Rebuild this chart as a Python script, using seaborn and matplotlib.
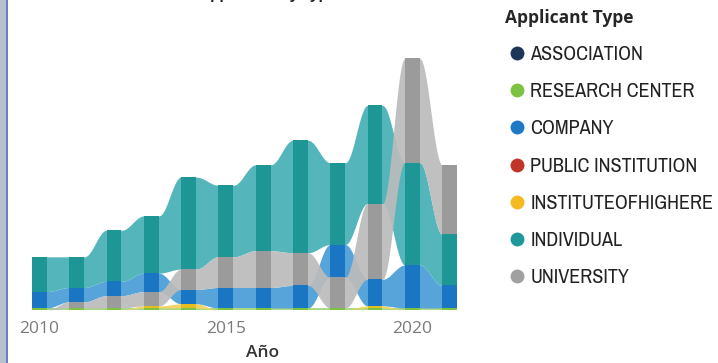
import numpy as np
import pandas as pd
import matplotlib
matplotlib.use("Agg")
import matplotlib.pyplot as plt
import seaborn as sns
from matplotlib.patches import Rectangle
from matplotlib.lines import Line2D

# ---------------- data ----------------
years = [2010, 2011, 2012, 2013, 2014, 2015, 2016, 2017, 2018, 2019, 2020, 2021]
categories = ["ASSOCIATION", "RESEARCH CENTER", "COMPANY", "PUBLIC INSTITUTION",
              "INSTITUTEOFHIGHERE", "INDIVIDUAL", "UNIVERSITY"]
association = [0, 0, 0, 0, 0, 0, 0, 0, 0, 0, 0, 0]
research_center = [1, 1, 1, 1, 1, 1, 1, 1, 1, 1, 1, 1]
company = [8, 7, 7, 9, 7, 10, 10, 11, 16, 13, 21, 11]
public_institution = [0, 0, 0, 0, 0, 0, 0, 0, 0, 0, 0, 0]
institute_higher = [0, 0, 0, 1, 2, 0, 0, 0, 0, 1, 0, 0]
individual = [17, 15, 25, 28, 45, 35, 42, 55, 40, 48, 50, 25]
university = [0, 3, 6, 7, 10, 15, 18, 16, 15, 37, 51, 34]
tick_years = [2010, 2015, 2020]

values = {
    "ASSOCIATION": association,
    "RESEARCH CENTER": research_center,
    "COMPANY": company,
    "PUBLIC INSTITUTION": public_institution,
    "INSTITUTEOFHIGHERE": institute_higher,
    "INDIVIDUAL": individual,
    "UNIVERSITY": university,
}

legend_colors = {
    "ASSOCIATION": "#1D3557",
    "RESEARCH CENTER": "#7DC242",
    "COMPANY": "#1E78C6",
    "PUBLIC INSTITUTION": "#C0342A",
    "INSTITUTEOFHIGHERE": "#F5B921",
    "INDIVIDUAL": "#1E9898",
    "UNIVERSITY": "#A0A0A0",
}
bar_colors = {
    "ASSOCIATION": "#1D3557",
    "RESEARCH CENTER": "#7DC242",
    "COMPANY": "#1A76C2",
    "PUBLIC INSTITUTION": "#C0342A",
    "INSTITUTEOFHIGHERE": "#E6BD1E",
    "INDIVIDUAL": "#1E9696",
    "UNIVERSITY": "#9B9B9B",
}
ribbon_colors = {
    "ASSOCIATION": "#5A6F8F",
    "RESEARCH CENTER": "#A5D67C",
    "COMPANY": "#4A9DD8",
    "PUBLIC INSTITUTION": "#D8706A",
    "INSTITUTEOFHIGHERE": "#F3D35E",
    "INDIVIDUAL": "#47B1B6",
    "UNIVERSITY": "#BBBBBB",
}
# tie-break priority (lower sits lower in the stack)
priority = {"RESEARCH CENTER": 0, "INSTITUTEOFHIGHERE": 1, "ASSOCIATION": 2,
            "PUBLIC INSTITUTION": 3, "COMPANY": 4, "UNIVERSITY": 5, "INDIVIDUAL": 6}

# ---------------- style ----------------
sns.set_theme(style="white")
plt.rcParams["font.family"] = ["Open Sans", "DejaVu Sans"]

W, H = 718, 363
fig = plt.figure(figsize=(W / 100, H / 100), dpi=100)
ax_left, ax_right = 32, 457
base_y, top_y = 310, 40
ax = fig.add_axes([ax_left / W, (H - base_y) / H, (ax_right - ax_left) / W, (base_y - top_y) / H])

n = len(years)
half = 0.2
ov = 0.04  # ribbons tuck slightly under the bars to avoid seams

# compute stacking per year (ribbon chart: largest on top)
bottoms = {c: np.zeros(n) for c in categories}
tops = {c: np.zeros(n) for c in categories}
for i in range(n):
    order = sorted(categories, key=lambda c: (values[c][i], priority[c]))
    acc = 0.0
    for c in order:
        bottoms[c][i] = acc
        acc += values[c][i]
        tops[c][i] = acc

# ribbons between bars
s = np.linspace(0, 1, 80)
w = 0.5 - 0.5 * np.cos(np.pi * s)
for c in categories:
    v = values[c]
    for i in range(n - 1):
        if v[i] == 0 and v[i + 1] == 0:
            continue
        x = years[i] + half + (years[i + 1] - years[i] - 2 * half) * s
        lo = bottoms[c][i] + (bottoms[c][i + 1] - bottoms[c][i]) * w
        hi = tops[c][i] + (tops[c][i + 1] - tops[c][i]) * w
        x = np.concatenate([[years[i] + half - ov], x, [years[i + 1] - half + ov]])
        lo = np.concatenate([[lo[0]], lo, [lo[-1]]])
        hi = np.concatenate([[hi[0]], hi, [hi[-1]]])
        ax.fill_between(x, lo, hi, color=ribbon_colors[c], alpha=0.93, lw=0, zorder=1)

# bars (seaborn)
for c in categories:
    df = pd.DataFrame({"year": years, "value": values[c]})
    sns.barplot(data=df, x="year", y="value", native_scale=True, width=2 * half,
                color=bar_colors[c], saturation=1, errorbar=None, ax=ax,
                bottom=bottoms[c], edgecolor="none", linewidth=0, zorder=2)

ax.set_xlim(years[0] - half, years[-1] + half)
ax.set_ylim(0, 132)
for sp in ax.spines.values():
    sp.set_visible(False)
ax.set_yticks([])
ax.set_ylabel("")
ax.set_xticks(tick_years)
ax.set_xticklabels([str(t) for t in tick_years], color="#7A7A7A", fontsize=12.5)
ax.tick_params(axis="x", length=0, pad=8)
ax.set_xlabel("Año", fontsize=12.5, color="#333333", fontweight="semibold")
ax.xaxis.set_label_coords((263 - ax_left) / (ax_right - ax_left), -0.13)
ax.patch.set_alpha(0)

# legend
handles = [Line2D([0], [0], marker="o", linestyle="none", markersize=10,
                  markerfacecolor=legend_colors[c], markeredgecolor="none")
           for c in categories]
leg = fig.legend(handles, categories, loc="upper left", bbox_to_anchor=(497 / W, 1 - 1 / H),
                 frameon=False, title="Applicant Type", alignment="left",
                 prop={"family": ["Archivo Narrow", "DejaVu Sans"], "size": 14.5},
                 title_fontproperties={"family": ["Open Sans", "DejaVu Sans"], "weight": "bold", "size": 12.5},
                 handletextpad=0.05, labelspacing=0.9, handlelength=1.2, borderaxespad=0)
for t in leg.get_texts():
    t.set_color("#222222")

# title (mostly cut off at top, as in the reference)
fig.text(355 / W, 1 + 0.8 / H, "Applicants by Type and Number of Patents", ha="center",
         va="baseline", fontsize=10.5, fontweight="bold", color="#222222")

# left frame strip
fig.add_artist(Rectangle((0, 0), 6 / W, 1, transform=fig.transFigure, color="#B9C1CE", lw=0))
fig.add_artist(Rectangle((6 / W, 0), 2 / W, 1, transform=fig.transFigure, color="#6F7EC2", lw=0))

fig.savefig("out.png", dpi=100)
